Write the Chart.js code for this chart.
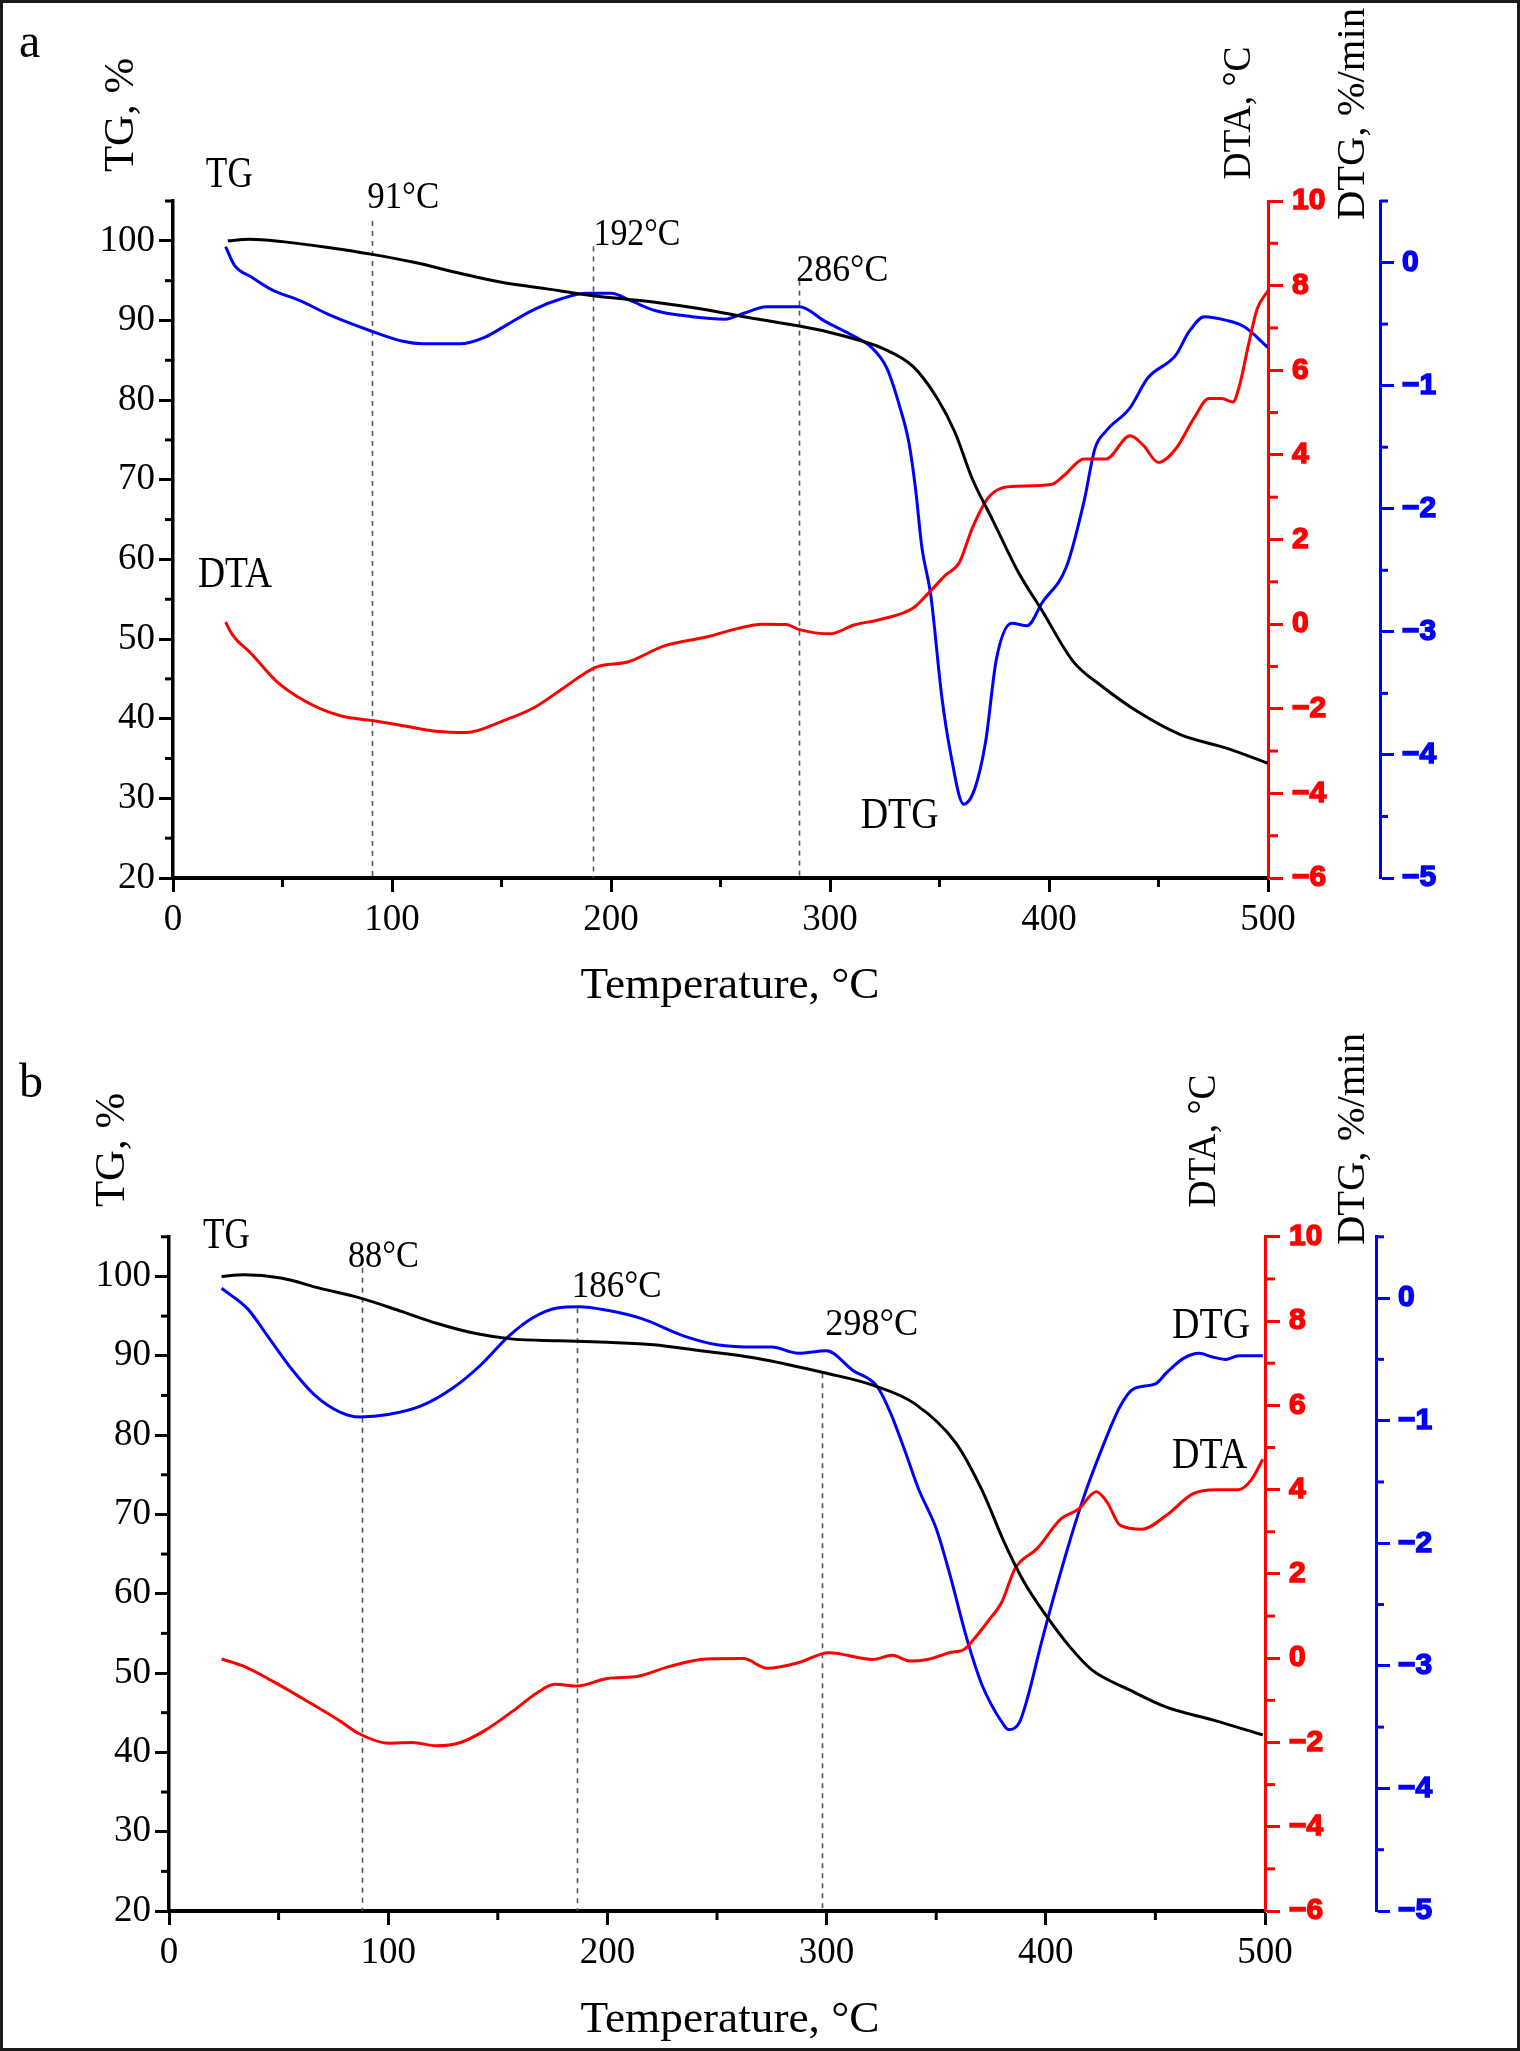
<!DOCTYPE html>
<html><head><meta charset="utf-8">
<script src="https://cdn.jsdelivr.net/npm/chart.js@4.4.1/dist/chart.umd.min.js"></script>
<style>
html,body{margin:0;padding:0;background:#fff;}
body{width:1520px;height:2051px;position:relative;overflow:hidden;}
#frame{position:absolute;left:0;top:0;width:1520px;height:2051px;box-sizing:border-box;border:3px solid #1a1a1a;pointer-events:none;}
canvas{position:absolute;left:0;}
#ca{top:0;} #cb{top:1020px;}
</style></head><body>
<canvas id="ca" width="1520" height="1020"></canvas>
<canvas id="cb" width="1520" height="1031"></canvas>
<div id="frame"></div>
<script>
// ---------- tick values ----------
const xTicks = [0, 100, 200, 300, 400, 500];
const xMinorTicks = [50, 150, 250, 350, 450];
const tgTicks = [20, 30, 40, 50, 60, 70, 80, 90, 100];
const tgMinorTicks = [25, 35, 45, 55, 65, 75, 85, 95, 105];
const dtaTicks = [-6, -4, -2, 0, 2, 4, 6, 8, 10];
const dtaMinorTicks = [-5, -3, -1, 1, 3, 5, 7, 9];
const dtgTicks = [-5, -4, -3, -2, -1, 0];
const dtgMinorTicks = [-4.5, -3.5, -2.5, -1.5, -0.5, 0.5];

// ---------- panel a data ----------
const aTgT = [25, 35, 50, 70, 91, 110, 130, 150, 170, 192, 220, 240, 260, 286, 300, 311, 324, 338, 349, 357, 365, 374, 386, 397, 411, 424, 441, 460, 481, 500];
const aTg  = [100.0, 100.2, 99.9, 99.2, 98.3, 97.3, 96.0, 94.8, 94.0, 93.1, 92.3, 91.5, 90.5, 89.3, 88.5, 87.7, 86.5, 84.2, 80.2, 76.0, 70.1, 65.1, 58.4, 53.5, 47.2, 44.1, 40.8, 38.0, 36.3, 34.4];
const aDtaT = [24, 27, 36, 47, 60, 76, 91, 105, 120, 134, 151, 165, 178, 193, 208, 224, 244, 258, 269, 280, 286, 300, 311, 323, 338, 344, 353, 359, 365, 372, 378, 386, 401, 407, 416, 426, 437, 443, 450, 458, 466, 473, 479, 484, 487, 491, 495, 500];
const aDta  = [0.05, -0.24, -0.71, -1.34, -1.81, -2.16, -2.28, -2.40, -2.53, -2.56, -2.28, -1.97, -1.52, -1.02, -0.89, -0.52, -0.30, -0.10, 0.00, -0.01, -0.13, -0.23, -0.02, 0.11, 0.38, 0.68, 1.17, 1.45, 2.27, 2.97, 3.21, 3.26, 3.30, 3.52, 3.90, 3.90, 4.45, 4.23, 3.82, 4.15, 4.85, 5.33, 5.33, 5.25, 5.64, 6.58, 7.44, 7.88];
const aDtgT = [24, 28, 36, 45, 58, 72, 91, 105, 114, 131, 142, 153, 165, 178, 189, 200, 209, 220, 237, 252, 261, 271, 286, 298, 311, 319, 326, 332, 336, 339, 342, 346, 351, 355, 361, 366, 371, 376, 383, 390, 397, 408, 416, 421, 426, 437, 445, 458, 464, 471, 481, 489, 500];
const aDtg  = [0.13, -0.02, -0.12, -0.22, -0.31, -0.43, -0.56, -0.64, -0.66, -0.66, -0.61, -0.50, -0.38, -0.29, -0.25, -0.25, -0.31, -0.39, -0.44, -0.46, -0.41, -0.36, -0.36, -0.48, -0.60, -0.69, -0.86, -1.18, -1.46, -1.83, -2.32, -2.70, -3.52, -3.98, -4.40, -4.28, -3.90, -3.22, -2.93, -2.95, -2.76, -2.47, -1.94, -1.51, -1.37, -1.18, -0.94, -0.75, -0.56, -0.44, -0.47, -0.52, -0.69];
const aMarkerTemps = [91, 192, 286];

// ---------- panel b data ----------
const bTgT = [24, 34, 51, 69, 87, 106, 122, 140, 157, 178, 200, 221, 241, 268, 300, 321, 340, 359, 371, 381, 390, 400, 411, 421, 438, 455, 476, 499];
const bTg  = [100.0, 100.2, 99.8, 98.5, 97.3, 95.6, 94.1, 92.8, 92.1, 91.9, 91.7, 91.4, 90.7, 89.7, 87.8, 86.3, 84.0, 79.0, 73.0, 66.5, 61.5, 57.3, 53.3, 50.4, 47.9, 45.7, 44.1, 42.2];
const bDtaT = [24, 34, 47, 64, 78, 87, 100, 111, 122, 133, 144, 157, 168, 176, 186, 200, 214, 228, 245, 262, 273, 287, 301, 321, 330, 338, 346, 356, 363, 367, 374, 380, 386, 396, 407, 415, 423, 428, 434, 444, 455, 467, 478, 488, 494, 499];
const bDta  = [-0.02, -0.19, -0.54, -1.05, -1.49, -1.80, -2.02, -2.00, -2.08, -2.00, -1.72, -1.25, -0.82, -0.62, -0.66, -0.48, -0.43, -0.20, -0.02, -0.01, -0.24, -0.11, 0.13, -0.03, 0.07, -0.07, -0.03, 0.13, 0.22, 0.44, 0.90, 1.34, 2.13, 2.60, 3.31, 3.54, 3.95, 3.70, 3.15, 3.06, 3.39, 3.90, 4.00, 4.00, 4.25, 4.72];
const bDtgT = [24, 36, 45, 56, 67, 78, 87, 100, 115, 129, 142, 155, 166, 177, 187, 200, 216, 235, 250, 268, 275, 287, 300, 312, 323, 329, 336, 342, 350, 356, 364, 371, 380, 383, 388, 392, 398, 409, 417, 426, 434, 440, 450, 455, 463, 470, 476, 482, 488, 499];
const bDtg  = [0.08, -0.09, -0.31, -0.58, -0.80, -0.93, -0.97, -0.95, -0.88, -0.74, -0.55, -0.31, -0.16, -0.08, -0.07, -0.10, -0.17, -0.31, -0.38, -0.40, -0.40, -0.45, -0.43, -0.59, -0.72, -0.93, -1.26, -1.56, -1.88, -2.24, -2.78, -3.16, -3.46, -3.52, -3.46, -3.24, -2.81, -2.10, -1.64, -1.21, -0.88, -0.74, -0.70, -0.61, -0.49, -0.45, -0.48, -0.50, -0.47, -0.47];
const bMarkerTemps = [88, 186, 298];

// ---------- texts ----------
const xTitle = 'Temperature, °C';
const tgTitle = 'TG, %';
const dtaTitle = 'DTA, °C';
const dtgTitle = 'DTG, %/min';

// ---------- layout (positions / sizes, not data) ----------
const SERIF = '"Liberation Serif", "Times New Roman", serif';
const SANS = '"Liberation Sans", Arial, sans-serif';
const panelA = {
  canvas: 'ca', H: 1020, left: 173, right: 1268, top: 201, bottom: 878, redW: 112, blueW: 70,
  letter: {s: 'a', x: 19, y: 57},
  tgTitle: {x: 122, y: 115}, dtaTitle: {x: 1239, y: 113}, dtgTitle: {x: 1353, y: 114}, xTitle: {x: 730, y: 998},
  markerLayout: [{top: 102.5, dx: -5, ly: 104.1, w: 72}, {top: 99.3, dx: 0, ly: 99.5, w: 87}, {top: 95.0, dx: -3, ly: 95.0, w: 92}],
  names: [{s: 'TG', t: 15, v: 106.8, w: 47}, {s: 'DTA', t: 11.4, v: 56.5, w: 74}, {s: 'DTG', t: 314, v: 26.3, w: 78}],
  tgT: aTgT, tg: aTg, dtaT: aDtaT, dta: aDta, dtgT: aDtgT, dtg: aDtg, markers: aMarkerTemps
};
const panelB = {
  canvas: 'cb', H: 1031, left: 169, right: 1265, top: 216.8, bottom: 891, redW: 111, blueW: 70,
  letter: {s: 'b', x: 19, y: 77},
  tgTitle: {x: 113, y: 130}, dtaTitle: {x: 1204, y: 121}, dtgTitle: {x: 1353, y: 119}, xTitle: {x: 730, y: 1012},
  markerLayout: [{top: 101.1, dx: -14, ly: 101.2, w: 71}, {top: 96.0, dx: -5, ly: 97.4, w: 90}, {top: 87.8, dx: 3, ly: 92.6, w: 93}],
  names: [{s: 'TG', t: 15.5, v: 103.6, w: 47}, {s: 'DTG', t: 457.6, v: 92.2, w: 78}, {s: 'DTA', t: 457.6, v: 75.9, w: 75}],
  tgT: bTgT, tg: bTg, dtaT: bDtaT, dta: bDta, dtgT: bDtgT, dtg: bDtg, markers: bMarkerTemps
};

function pts(xs, ys) { return xs.map((x, i) => ({x: x, y: ys[i]})); }
function minusFmt(v) { return v < 0 ? '\u2212' + Math.abs(v) : String(v); }

function drawText(ctx, s, x, y, o) {
  ctx.save();
  ctx.font = (o.bold ? 'bold ' : '') + o.size + 'px ' + (o.family || SERIF);
  const m = ctx.measureText(s).width;
  const sx = o.width ? o.width / m : 1;
  ctx.translate(x, y);
  if (o.rotate) ctx.rotate(o.rotate);
  ctx.scale(sx, 1);
  ctx.textAlign = o.align || 'left';
  ctx.textBaseline = o.baseline || 'alphabetic';
  ctx.fillStyle = o.color || '#000';
  ctx.fillText(s, 0, 0);
  ctx.restore();
}

function makePlugin(P) {
  return {
    id: 'thermo',
    beforeDatasetsDraw(chart) {
      const ctx = chart.ctx, xs = chart.scales.x, ys = chart.scales.yTG;
      ctx.save();
      ctx.strokeStyle = '#555';
      ctx.lineWidth = 1.6;
      ctx.setLineDash([5, 5]);
      P.markers.forEach((t, i) => {
        const px = Math.round(xs.getPixelForValue(t)) + 0.5;
        ctx.beginPath();
        ctx.moveTo(px, ys.getPixelForValue(P.markerLayout[i].top));
        ctx.lineTo(px, chart.chartArea.bottom);
        ctx.stroke();
      });
      ctx.restore();
    },
    afterDraw(chart) {
      const ctx = chart.ctx, S = chart.scales;
      const xs = S.x, yt = S.yTG, yr = S.yDTA, yb = S.yDTG;
      ctx.save();
      ctx.lineCap = 'butt';
      // minor ticks
      ctx.strokeStyle = '#000'; ctx.lineWidth = 3;
      xMinorTicks.forEach(v => { const p = xs.getPixelForValue(v); ctx.beginPath(); ctx.moveTo(p, xs.top); ctx.lineTo(p, xs.top + 9); ctx.stroke(); });
      tgMinorTicks.forEach(v => { const p = yt.getPixelForValue(v); ctx.beginPath(); ctx.moveTo(yt.right - 8, p); ctx.lineTo(yt.right, p); ctx.stroke(); });
      ctx.strokeStyle = '#ff0000';
      dtaMinorTicks.forEach(v => { const p = yr.getPixelForValue(v); ctx.beginPath(); ctx.moveTo(yr.left, p); ctx.lineTo(yr.left + 10, p); ctx.stroke(); });
      ctx.strokeStyle = '#0000ff';
      dtgMinorTicks.forEach(v => { const p = yb.getPixelForValue(v); ctx.beginPath(); ctx.moveTo(yb.left, p); ctx.lineTo(yb.left + 8, p); ctx.stroke(); });
      ctx.restore();
      // marker labels
      P.markers.forEach((t, i) => {
        const L = P.markerLayout[i];
        drawText(ctx, t + '°C', xs.getPixelForValue(t) + L.dx, yt.getPixelForValue(L.ly), {size: 37, width: L.w});
      });
      // curve names
      P.names.forEach(n => drawText(ctx, n.s, xs.getPixelForValue(n.t), yt.getPixelForValue(n.v), {size: 45, width: n.w}));
      // axis titles
      drawText(ctx, tgTitle, P.tgTitle.x, P.tgTitle.y, {size: 42, width: 114, rotate: -Math.PI / 2, align: 'center', baseline: 'middle'});
      drawText(ctx, dtaTitle, P.dtaTitle.x, P.dtaTitle.y, {size: 40, width: 133, rotate: -Math.PI / 2, align: 'center', baseline: 'middle'});
      drawText(ctx, dtgTitle, P.dtgTitle.x, P.dtgTitle.y, {size: 40, width: 212, rotate: -Math.PI / 2, align: 'center', baseline: 'middle'});
      drawText(ctx, xTitle, P.xTitle.x, P.xTitle.y, {size: 45, width: 299, align: 'center'});
      drawText(ctx, P.letter.s, P.letter.x, P.letter.y, {size: 48});
    }
  };
}

function setTicks(arr) { return s => { s.ticks = arr.map(v => ({value: v})); }; }

function build(P) {
  const ctx = document.getElementById(P.canvas).getContext('2d');
  const xAxisH = P.H - P.bottom;
  const padRight = 1520 - P.right - P.redW - P.blueW;
  const serifTick = {family: SERIF, size: 37};
  const sansTick = {family: SANS, size: 30, weight: 'bold'};
  return new Chart(ctx, {
    type: 'line',
    data: {
      datasets: [
        {label: 'TG', data: pts(P.tgT, P.tg), yAxisID: 'yTG', borderColor: '#000', borderWidth: 3, pointRadius: 0, cubicInterpolationMode: 'monotone', fill: false},
        {label: 'DTA', data: pts(P.dtaT, P.dta), yAxisID: 'yDTA', borderColor: '#ff0000', borderWidth: 3, pointRadius: 0, cubicInterpolationMode: 'monotone', fill: false},
        {label: 'DTG', data: pts(P.dtgT, P.dtg), yAxisID: 'yDTG', borderColor: '#0000ff', borderWidth: 3, pointRadius: 0, cubicInterpolationMode: 'monotone', fill: false}
      ]
    },
    options: {
      responsive: false, animation: false, devicePixelRatio: 1,
      layout: {padding: {left: 0, right: padRight, top: P.top, bottom: 0}},
      plugins: {legend: {display: false}, tooltip: {enabled: false}},
      scales: {
        x: {
          type: 'linear', position: 'bottom', min: 0, max: 500,
          afterBuildTicks: setTicks(xTicks),
          afterFit: s => { s.height = xAxisH; },
          grid: {drawOnChartArea: false, drawTicks: true, tickLength: 14, tickWidth: 3, tickColor: '#000'},
          border: {display: true, color: '#000', width: 4},
          ticks: {font: serifTick, color: '#000', padding: 6, maxRotation: 0, autoSkip: false}
        },
        yTG: {
          type: 'linear', position: 'left', min: 20, max: 105,
          afterBuildTicks: setTicks(tgTicks),
          afterFit: s => { s.width = P.left; },
          grid: {drawOnChartArea: false, drawTicks: true, tickLength: 14, tickWidth: 3, tickColor: '#000'},
          border: {display: true, color: '#000', width: 3.5},
          ticks: {font: serifTick, color: '#000', padding: 4, autoSkip: false}
        },
        yDTA: {
          type: 'linear', position: 'right', min: -6, max: 10, weight: 0,
          afterBuildTicks: setTicks(dtaTicks),
          afterFit: s => { s.width = P.redW; },
          grid: {drawOnChartArea: false, drawTicks: true, tickLength: 15, tickWidth: 3, tickColor: '#ff0000'},
          border: {display: true, color: '#ff0000', width: 3},
          ticks: {font: sansTick, color: '#ff0000', textStrokeColor: '#ff0000', textStrokeWidth: 1.5, padding: 9, autoSkip: false, callback: v => minusFmt(v)}
        },
        yDTG: {
          type: 'linear', position: 'right', min: -5, max: 0.5, weight: 1,
          afterBuildTicks: setTicks(dtgTicks),
          afterFit: s => { s.width = P.blueW; },
          grid: {drawOnChartArea: false, drawTicks: true, tickLength: 14, tickWidth: 3, tickColor: '#0000ff'},
          border: {display: true, color: '#0000ff', width: 3},
          ticks: {font: sansTick, color: '#0000ff', textStrokeColor: '#0000ff', textStrokeWidth: 1.5, padding: 8, autoSkip: false, callback: v => minusFmt(v)}
        }
      }
    },
    plugins: [makePlugin(P)]
  });
}

build(panelA);
build(panelB);
</script>
</body></html>
